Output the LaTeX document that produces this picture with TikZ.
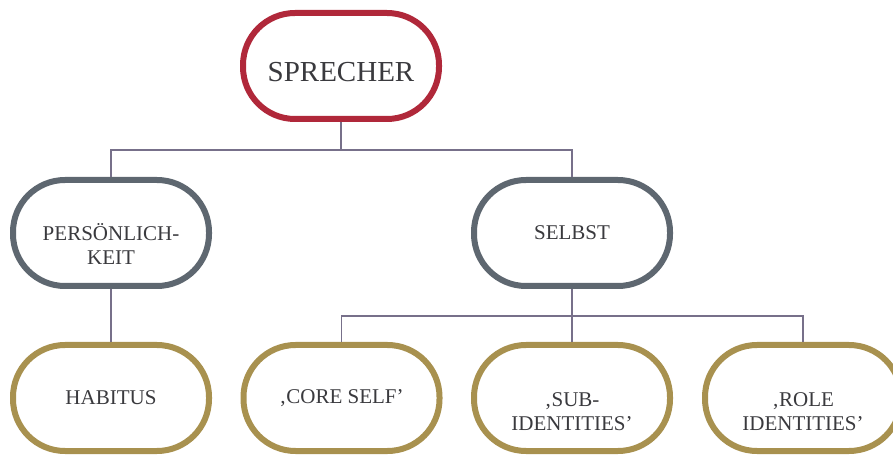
\documentclass[tikz,border=0pt]{standalone}
\usepackage{fontspec}
\setmainfont{Liberation Serif}
\definecolor{cred}{HTML}{B0283A}
\definecolor{cslate}{HTML}{5E6770}
\definecolor{cgold}{HTML}{A8914F}
\definecolor{cline}{HTML}{77708A}
\definecolor{ctext}{HTML}{3A3A3E}
\tikzset{
  pill/.style={draw, fill=white, line width=6pt, rounded corners=52pt,
    minimum width=196pt, minimum height=106pt, inner sep=0pt, align=center,
    text=ctext, font=\fontsize{21}{24}\selectfont},
  redpill/.style={pill, draw=cred, font=\fontsize{29}{32}\selectfont,
    text height=31pt, text depth=0pt},
  slatepill/.style={pill, draw=cslate},
  goldpill/.style={pill, draw=cgold},
  twoline/.style={text height=64pt, text depth=0pt},
  conn/.style={draw=cline, line width=1.8pt}
}
\begin{document}
\begin{tikzpicture}[x=1pt,y=1pt]
\useasboundingbox (0,0) rectangle (893,455);
\node[redpill] (spr) at (341,389) {SPRECHER};
\node[slatepill,twoline] (pers) at (111,222) {PERSÖNLICH-\\KEIT};
\node[slatepill] (selbst) at (572,222) {SELBST};
\node[goldpill] (hab) at (111,57) {HABITUS};
\node[goldpill] (core) at (341.5,57) {‚CORE SELF’};
\node[goldpill,twoline] (sub) at (572,57) {‚SUB-\\IDENTITIES’};
\node[goldpill,twoline] (role) at (803,57) {‚ROLE\\IDENTITIES’};
\coordinate (jA) at (341,305);
\coordinate (jB) at (572,139);
\draw[conn] (spr.south) -- (jA) -| (pers.north);
\draw[conn] (jA) -| (selbst.north);
\draw[conn] (pers.south) -- (hab.north);
\draw[conn] (selbst.south) -- (jB) -| (core.north);
\draw[conn] (jB) -| (role.north);
\draw[conn] (jB) -- (sub.north);
\end{tikzpicture}
\end{document}
